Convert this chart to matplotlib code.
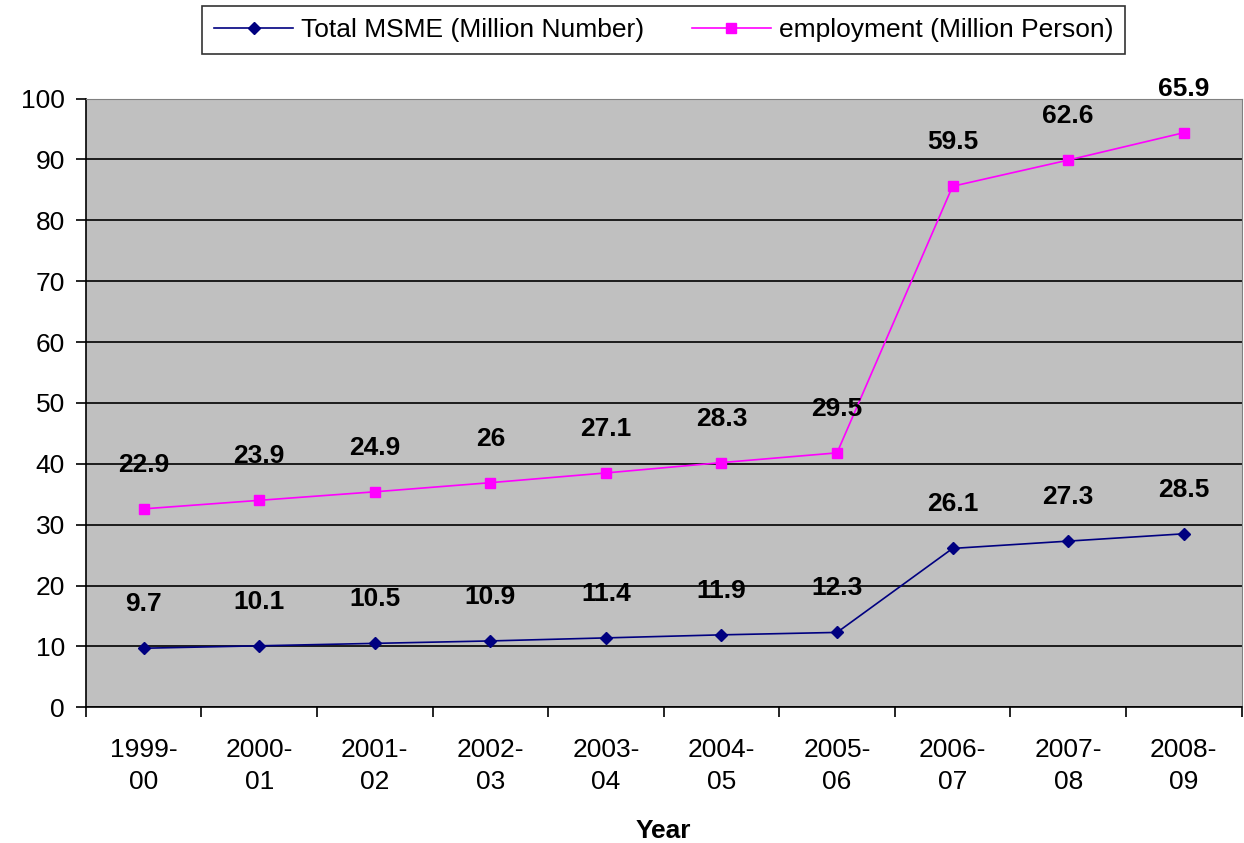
import matplotlib.pyplot as plt
import numpy as np

plt.rcParams['font.family'] = ['Liberation Sans', 'DejaVu Sans']

# Data
years = ['1999-\n00', '2000-\n01', '2001-\n02', '2002-\n03', '2003-\n04',
         '2004-\n05', '2005-\n06', '2006-\n07', '2007-\n08', '2008-\n09']
msme = [9.7, 10.1, 10.5, 10.9, 11.4, 11.9, 12.3, 26.1, 27.3, 28.5]
employment = [22.9, 23.9, 24.9, 26, 27.1, 28.3, 29.5, 59.5, 62.6, 65.9]

# stacked line chart (Excel style): employment drawn on top of MSME
stacked = np.array(msme) + np.array(employment)
x = np.arange(len(years))

fig = plt.figure(figsize=(12.44, 8.43), dpi=100)
ax = fig.add_axes([0.069, 0.161, 0.929, 0.722])
ax.set_facecolor('#c0c0c0')

ax.plot(x, msme, color='#000080', marker='D', markersize=6, linewidth=1.2,
        label='Total MSME (Million Number)')
ax.plot(x, stacked, color='#ff00ff', marker='s', markersize=7, linewidth=1.2,
        label='employment (Million Person)')

for xi, yi, v in zip(x, msme, msme):
    ax.annotate(f'{v:g}', (xi, yi), xytext=(0, 23), textcoords='offset points',
                ha='center', va='bottom', fontsize=19, fontweight='bold')
for xi, yi, v in zip(x, stacked, employment):
    ax.annotate(f'{v:g}', (xi, yi), xytext=(0, 23), textcoords='offset points',
                ha='center', va='bottom', fontsize=19, fontweight='bold')

ax.set_xlim(-0.5, len(years) - 0.5)
ax.set_ylim(0, 100)
ax.set_yticks(range(0, 101, 10))
ax.yaxis.grid(True, color='black', linewidth=1.2)
ax.set_axisbelow(True)

ax.set_xticks(x)
ax.set_xticklabels(years, fontsize=19, linespacing=1.45)
ax.set_xticks(np.arange(-0.5, len(years), 1), minor=True)
ax.tick_params(axis='x', which='major', length=0, pad=22)
ax.tick_params(axis='x', which='minor', length=7, width=1.2, direction='out')
ax.tick_params(axis='y', labelsize=19, length=7, width=1.2, direction='out', pad=8)

for side in ['top', 'right']:
    ax.spines[side].set_color('#808080')
for side in ['left', 'bottom']:
    ax.spines[side].set_color('black')
    ax.spines[side].set_linewidth(1.2)

ax.set_xlabel('Year', fontsize=19, fontweight='bold', labelpad=18)

leg = ax.legend(loc='lower center', bbox_to_anchor=(0.5, 1.052), ncol=2,
                fontsize=19, frameon=True, fancybox=False, edgecolor='black',
                borderpad=0.45, handlelength=3.0, columnspacing=1.8,
                handletextpad=0.3)
leg.get_frame().set_linewidth(1.2)

plt.savefig('out.png', dpi=100)
